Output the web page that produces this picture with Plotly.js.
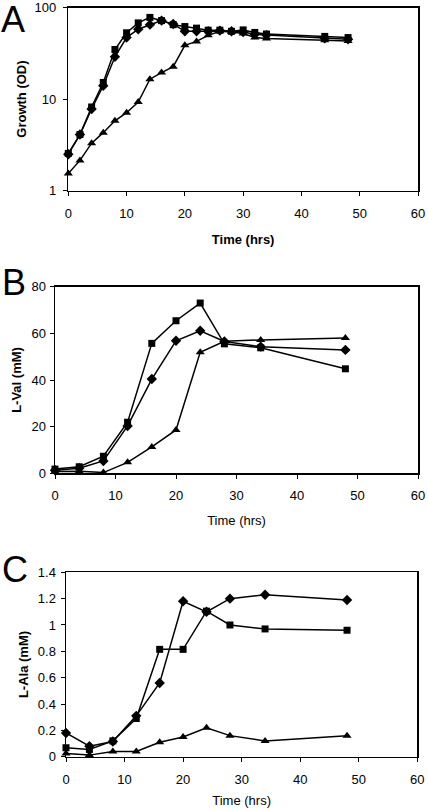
<!DOCTYPE html>
<html>
<head>
<meta charset="utf-8">
<script src="https://cdn.plot.ly/plotly-3.0.1.min.js"></script>
<style>html,body{margin:0;padding:0;background:#fff;}#chart{width:428px;height:811px;}</style>
</head>
<body>
<div id="chart"></div>
<script>
// ---- data ----
const timeA = [0,2,4,6,8,10,12,14,16,18,20,22,24,26,28,30,32,34,44,48];
const growthSquare = [2.55,4.1,8.2,15.2,34.8,53,68,78,72,65,62,59.6,56.6,56.6,55,57,53.5,51.4,48.4,47];
const growthDiamond = [2.5,4.1,7.8,14,29,47,58,65,72,66,55,55,55,56,55,54,51,50,46,45];
const growthTriangle = [1.54,2.14,3.3,4.3,5.8,7.1,9.3,16.5,19.5,22.6,38.7,42.7,49.7,55,54,52,47,46,44,43];

const timeBC = [0,4,8,12,16,20,24,28,34,48];
const valSquare = [1.8,2.8,7.3,21.9,55.7,65.4,73,55.5,53.8,44.8];
const valDiamond = [1.3,2.2,5.3,20.3,40.4,56.8,61.1,56.5,54.3,52.9];
const valTriangle = [0.8,0.9,0.3,4.7,11.3,18.6,51.9,56.6,57.2,58];

const alaSquare = [0.068,0.055,0.12,0.29,0.815,0.815,1.105,1.0,0.97,0.96];
const alaDiamond = [0.18,0.08,0.115,0.31,0.56,1.18,1.1,1.2,1.23,1.19];
const alaTriangle = [0.025,0.012,0.04,0.04,0.11,0.15,0.22,0.16,0.12,0.16];

const xTickVals = [0,10,20,30,40,50,60];
const xTickText = ['0','10','20','30','40','50','60'];
const aTickVals = [1,10,100];
const aTickText = ['1','10','100'];
const bTickVals = [0,20,40,60,80];
const bTickText = ['0','20','40','60','80'];
const cTickVals = [0,0.2,0.4,0.6,0.8,1,1.2,1.4];
const cTickText = ['0','0.2','0.4','0.6','0.8','1','1.2','1.4'];

// ---- layout helpers ----
const W = 428, H = 811;
const FONT = 'Liberation Sans, Arial, sans-serif';
const fx = p => p / W;
const fy = p => 1 - p / H;

function series(x, y, symbol, size, xa, ya) {
  return {
    x: x, y: y, xaxis: xa, yaxis: ya, type: 'scatter', mode: 'lines+markers',
    line: {color: '#000', width: 1.5},
    marker: {symbol: symbol, size: size, color: '#000'},
    showlegend: false, hoverinfo: 'x+y', cliponaxis: false
  };
}

const traces = [
  series(timeA, growthDiamond, 'diamond', 8, 'x', 'y'),
  series(timeA, growthTriangle, 'triangle-up', 8, 'x', 'y'),
  series(timeA, growthSquare, 'square', 7, 'x', 'y'),
  series(timeBC, valDiamond, 'diamond', 8, 'x2', 'y2'),
  series(timeBC, valTriangle, 'triangle-up', 8, 'x2', 'y2'),
  series(timeBC, valSquare, 'square', 7, 'x2', 'y2'),
  series(timeBC, alaDiamond, 'diamond', 8, 'x3', 'y3'),
  series(timeBC, alaTriangle, 'triangle-up', 8, 'x3', 'y3'),
  series(timeBC, alaSquare, 'square', 7, 'x3', 'y3')
];

const tickFont = {family: FONT, size: 13, color: '#000'};
function xAxis(left, right, anchor, bold, standoff) {
  return {
    domain: [fx(left), fx(right)], anchor: anchor, range: [0, 60],
    tickvals: xTickVals, ticktext: xTickText, tickfont: tickFont,
    ticks: 'outside', ticklen: 4, tickwidth: 1, tickcolor: '#000',
    ticklabelstandoff: 6, ticklabeloverflow: 'allow',
    showline: true, linecolor: '#000', linewidth: 1.5, mirror: true,
    showgrid: false, zeroline: false, automargin: false,
    title: {text: 'Time (hrs)', standoff: standoff,
      font: {family: FONT, size: 13, color: '#000', weight: bold ? 'bold' : 'normal'}}
  };
}
function yAxis(top, bottom, anchor, titleText, extra, labelGap, standoff) {
  return Object.assign({
    domain: [fy(bottom), fy(top)], anchor: anchor, tickfont: tickFont,
    ticks: 'outside', ticklen: 4, tickwidth: 1, tickcolor: '#000',
    ticklabelstandoff: labelGap, ticklabeloverflow: 'allow',
    showline: true, linecolor: '#000', linewidth: 1.5, mirror: true,
    showgrid: false, zeroline: false, automargin: false,
    title: {text: titleText, standoff: standoff,
      font: {family: FONT, size: 13, color: '#000', weight: 'bold'}}
  }, extra);
}

const layout = {
  width: W, height: H,
  margin: {l: 0, r: 0, t: 0, b: 0},
  paper_bgcolor: '#fff', plot_bgcolor: '#fff',
  font: {family: FONT, color: '#000'},
  showlegend: false,
  xaxis: xAxis(68.3, 418, 'y', true, 15),
  yaxis: yAxis(7.5, 190.7, 'x', 'Growth (OD)', {type: 'log', range: [-0.0005, 2.0005], tickvals: aTickVals, ticktext: aTickText}, 4, 5),
  xaxis2: xAxis(55, 418, 'y2', false, 13),
  yaxis2: yAxis(286.7, 473.3, 'x2', 'L-Val (mM)', {range: [0, 80], tickvals: bTickVals, ticktext: bTickText}, 1, 7),
  xaxis3: xAxis(66, 417.3, 'y3', false, 10),
  yaxis3: yAxis(572.3, 756.7, 'x3', 'L-Ala (mM)', {range: [0, 1.4], tickvals: cTickVals, ticktext: cTickText}, 2, 6),
  annotations: [
    {text: 'A', xref: 'paper', yref: 'paper', x: fx(0), y: 1, xanchor: 'left', yanchor: 'top', borderpad: 0, yshift: 2, showarrow: false, font: {family: FONT, size: 36, color: '#000'}},
    {text: 'B', xref: 'paper', yref: 'paper', x: fx(0), y: fy(282.5), xanchor: 'left', yanchor: 'middle', showarrow: false, font: {family: FONT, size: 36, color: '#000'}},
    {text: 'C', xref: 'paper', yref: 'paper', x: fx(0), y: fy(569), xanchor: 'left', yanchor: 'middle', showarrow: false, font: {family: FONT, size: 36, color: '#000'}}
  ]
};

Plotly.newPlot('chart', traces, layout, {staticPlot: true, displayModeBar: false});
</script>
</body>
</html>
